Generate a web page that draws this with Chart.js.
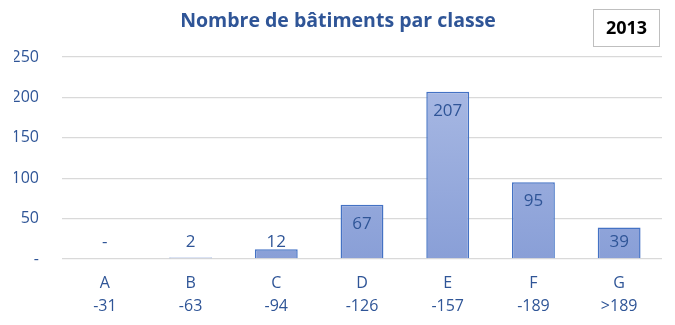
<!DOCTYPE html>
<html>
<head>
<meta charset="utf-8">
<script src="https://cdn.jsdelivr.net/npm/chart.js@4/dist/chart.umd.min.js"></script>
<style>
  html, body { margin: 0; padding: 0; background: #ffffff; }
  #wrap { width: 675px; height: 325px; position: relative; }
</style>
</head>
<body>
<div id="wrap"><canvas id="c" width="675" height="325"></canvas></div>
<script>
// Energy classes and their kWh thresholds
const classes = ['A', 'B', 'C', 'D', 'E', 'F', 'G'];
const thresholds = ['-31', '-63', '-94', '-126', '-157', '-189', '>189'];
// Number of buildings per class
const buildings = [0, 2, 12, 67, 207, 95, 39];
// Value axis ticks
const yTicks = [0, 50, 100, 150, 200, 250];
const chartTitle = 'Nombre de bâtiments par classe';
const yearLabel = '2013';

const textBlue = '#2f5597';
const fontFamily = "'Open Sans', 'Noto Sans', sans-serif";

// Light-to-darker blue fill along each bar
function barFill(ctx) {
  const chart = ctx.chart;
  const area = chart.chartArea;
  if (!area) return '#9aaddf';
  const g = chart.ctx.createLinearGradient(0, area.top, 0, area.bottom);
  g.addColorStop(0, '#acbce5');
  g.addColorStop(1, '#899fd7');
  return g;
}

// Value labels: inside the top of tall bars, just above short ones; zero shows "-"
const valueLabels = {
  id: 'valueLabels',
  afterDatasetsDraw(chart) {
    const { ctx } = chart;
    const meta = chart.getDatasetMeta(0);
    const zeroY = chart.scales.y.getPixelForValue(0);
    ctx.save();
    ctx.font = '17px ' + fontFamily;
    ctx.fillStyle = textBlue;
    ctx.textAlign = 'center';
    ctx.textBaseline = 'middle';
    meta.data.forEach((bar, i) => {
      const v = chart.data.datasets[0].data[i];
      const y = Math.min(bar.y + 19, zeroY - 17);
      ctx.fillText(v === 0 ? '-' : String(v), bar.x, y);
    });
    ctx.restore();
  }
};

// Framed year label in the top-right corner
const yearBox = {
  id: 'yearBox',
  afterDraw(chart) {
    const { ctx } = chart;
    ctx.save();
    ctx.fillStyle = '#ffffff';
    ctx.fillRect(593.5, 9.5, 66, 37);
    ctx.strokeStyle = '#bfbfbf';
    ctx.lineWidth = 1;
    ctx.strokeRect(593.5, 9.5, 66, 37);
    ctx.font = 'bold 18px ' + fontFamily;
    ctx.fillStyle = '#000000';
    ctx.textAlign = 'center';
    ctx.textBaseline = 'middle';
    ctx.fillText(yearLabel, 626.5, 29);
    ctx.restore();
  }
};

new Chart(document.getElementById('c'), {
  type: 'bar',
  data: {
    labels: classes.map((c, i) => [c, thresholds[i]]),
    datasets: [{
      data: buildings,
      backgroundColor: barFill,
      borderColor: '#4472c4',
      borderWidth: 1.5,
      borderSkipped: 'bottom',
      categoryPercentage: 1,
      barPercentage: 0.5
    }]
  },
  options: {
    responsive: false,
    animation: false,
    devicePixelRatio: 1,
    layout: { padding: { left: 14, right: 13, top: 0, bottom: 0 } },
    plugins: {
      legend: { display: false },
      tooltip: { enabled: false },
      title: {
        display: true,
        text: chartTitle,
        color: textBlue,
        font: { family: fontFamily, size: 19.5, weight: 'bold', lineHeight: 1.2 },
        padding: { top: 10, bottom: 23.6 },
        align: 'center'
      }
    },
    scales: {
      x: {
        grid: { display: false, drawTicks: false },
        border: { display: false },
        ticks: {
          color: textBlue,
          font: { family: fontFamily, size: 16, lineHeight: 1.45 },
          padding: 13,
          maxRotation: 0,
          autoSkip: false
        },
        afterFit(scale) { scale.height = 66; }
      },
      y: {
        min: 0,
        max: 250,
        afterBuildTicks(scale) { scale.ticks = yTicks.map(v => ({ value: v })); },
        grid: { color: '#d9d9d9', lineWidth: 1.3, drawTicks: false },
        border: { display: false },
        ticks: {
          color: textBlue,
          font: { family: fontFamily, size: 16 },
          padding: 23,
          callback: v => (v === 0 ? '-' : String(v))
        },
        afterFit(scale) { scale.width = 48; }
      }
    }
  },
  plugins: [valueLabels, yearBox]
});
</script>
</body>
</html>
